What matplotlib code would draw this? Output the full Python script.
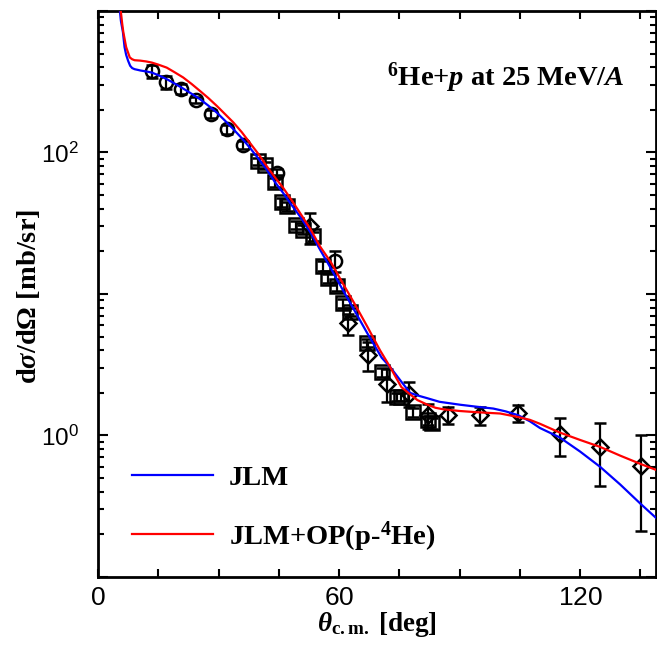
import numpy as np
import matplotlib
matplotlib.use("Agg")
import matplotlib.pyplot as plt
from matplotlib.ticker import FixedLocator, FuncFormatter, LogLocator, NullFormatter

# fonts: bold serif for labels, sans for the tick numbers
plt.rcParams['font.family'] = 'Liberation Serif'
plt.rcParams['mathtext.fontset'] = 'custom'
plt.rcParams['mathtext.rm'] = 'Liberation Serif:bold'
plt.rcParams['mathtext.it'] = 'Liberation Serif:italic:bold'
plt.rcParams['mathtext.bf'] = 'Liberation Serif:bold'
plt.rcParams['mathtext.sf'] = 'Liberation Sans'

# --- measured cross sections ---
# forward angles (circles)
circ_theta = [13.5, 17.0, 20.7, 24.5, 28.2, 32.1, 36.1, 44.6, 59.0]
circ_xs    = [377, 315, 283, 234, 188, 146, 113, 72, 17.2]
circ_err   = [40, 32, 23, 12, 12, 10, 8, 5, 3.0]

# middle angles (squares)
sq_theta = [39.9, 41.6, 44.1, 45.7, 47.1, 49.3, 51.1, 53.6, 55.9, 57.3,
            59.4, 61.1, 62.7, 66.9, 70.6, 74.4, 75.3, 78.5, 82.2, 83.1]
sq_xs    = [87, 81, 61.5, 44.5, 41.6, 30.9, 28.5, 25.5, 15.8, 12.9,
            11.3, 8.6, 7.5, 4.5, 2.8, 1.87, 1.87, 1.46, 1.28, 1.22]
sq_err   = [5, 5, 4, 3, 3, 2, 2, 2, 1.2, 1.0,
            0.8, 0.6, 0.5, 0.3, 0.2, 0.12, 0.12, 0.1, 0.1, 0.1]

# backward angles (diamonds)
dia_theta = [52.8, 62.3, 67.3, 71.9, 77.3, 82.2, 87.2, 95.1, 104.6, 114.9, 125.0, 135.1]
dia_xs    = [30.0, 6.2, 3.7, 2.33, 1.98, 1.39, 1.39, 1.39, 1.44, 1.02, 0.826, 0.613]
dia_err   = [7.5, 1.05, 0.85, 0.6, 0.4, 0.27, 0.19, 0.2, 0.2, 0.3, 0.39, 0.4]

# --- calculations ---
jlm_theta = [5.3, 5.7, 6.2, 6.6, 7.0, 7.5, 8.0, 8.5, 9.1, 10.0, 10.5, 12, 13.4, 15, 17.1, 19,
             21.2, 23.3, 25.4, 27.5, 29.6, 31.6, 33.7, 35.8, 37.8, 40, 42, 44,
             46.1, 48.2, 50.3, 52.8, 55.3, 58, 61, 64, 67, 70.6, 72.7, 75.5, 77.7,
             79.5, 81.8, 85, 90.1, 94, 98.4, 101.5, 104.6, 107.5, 110, 114.9,
             120, 125, 130, 135, 139]
jlm_xs    = [1100, 850, 708, 556, 490, 444, 410, 395, 388, 383, 380, 374, 367, 352, 330, 308,
             283, 260, 238, 214, 191, 168, 146, 126, 108, 90, 75.7, 62,
             51.7, 42.5, 35.3, 27.5, 20.5, 15.1, 10.6, 7.5, 5.3, 3.55, 3.05, 2.4, 2.0,
             1.92, 1.84, 1.73, 1.65, 1.60, 1.55, 1.48, 1.39, 1.26, 1.13, 0.97,
             0.77, 0.60, 0.45, 0.33, 0.26]

op_theta = [5.5, 6.0, 6.3, 7.0, 7.9, 8.5, 9.1, 10.5, 12, 13.4, 15, 17.1, 19, 21.2, 23.3,
            25.4, 27.5, 29.6, 31.6, 33.7, 35.8, 37.8, 40, 42, 44, 46.1, 48.2,
            50.3, 52.8, 55.3, 58, 61, 64, 67, 70.2, 72.7, 75.5, 77.7, 79.5, 81.8,
            84, 86, 90, 94.3, 100.1, 104.6, 107.5, 110, 114.9, 120, 125, 130,
            135, 139]
op_xs    = [1100, 820, 708, 556, 470, 456, 449, 446, 440, 432, 418, 398, 370, 339, 305,
            272, 242, 213, 187, 163, 139, 117, 97, 80, 67, 56.2, 46,
            37.3, 29, 21.6, 16.7, 11.8, 8.4, 5.9, 4.0, 3.05, 2.2, 1.95, 1.78, 1.66,
            1.57, 1.53, 1.49, 1.46, 1.43, 1.35, 1.29, 1.21, 1.05, 0.93, 0.83, 0.72,
            0.63, 0.57]

fig = plt.figure(figsize=(6.57, 6.51), dpi=100)
ax = fig.add_axes([0.1492, 0.1137, 0.8493, 0.8694])

ax.plot(jlm_theta, jlm_xs, color='#0000ff', lw=1.6, label='JLM', zorder=3)
ax.plot(op_theta, op_xs, color='#ff0000', lw=1.6, label=r'JLM+OP(p-$^{4}$He)', zorder=3)

bar_style = dict(mfc='none', mec='k', mew=1.8, ms=9.5, ecolor='k',
                 elinewidth=1.6, capsize=4, capthick=1.6, ls='none', zorder=2)
ax.errorbar(circ_theta, circ_xs, yerr=circ_err, fmt='o', **bar_style)
ax.errorbar(sq_theta, sq_xs, yerr=sq_err, fmt='s', **bar_style)
ax.errorbar(dia_theta, dia_xs, yerr=dia_err, fmt='D', **dict(bar_style, ms=8))

ax.set_yscale('log')
ax.set_xlim(0, 138.9)
ax.set_ylim(0.1, 1000)

# ticks
ax.xaxis.set_major_locator(FixedLocator([0, 60, 120]))
ax.xaxis.set_minor_locator(FixedLocator([15, 30, 45, 75, 90, 105, 135]))
ax.xaxis.set_major_formatter(FuncFormatter(lambda v, p: r'$\mathsf{%d}$' % v))
ax.yaxis.set_major_locator(LogLocator(base=10, numticks=10))
ax.yaxis.set_minor_locator(LogLocator(base=10, subs=np.arange(2, 10), numticks=20))
ax.yaxis.set_minor_formatter(NullFormatter())


def ylab(v, pos):
    e = int(round(np.log10(v)))
    if e in (0, 2):
        return r'$\mathsf{10^{%d}}$' % e
    return ''


ax.yaxis.set_major_formatter(FuncFormatter(ylab))
ax.tick_params(which='both', direction='in', top=True, right=True, width=1.5, colors='k')
ax.tick_params(axis='x', which='both', length=6, pad=8, labelsize=19)
ax.tick_params(axis='y', which='major', length=7, pad=14, labelsize=17.5)
ax.tick_params(axis='y', which='minor', length=4)
for s in ax.spines.values():
    s.set_linewidth(2)

ax.text(0.944, 0.869, r'$^{6}$He+$p$ at 25 MeV/$A$', transform=ax.transAxes,
        ha='right', va='baseline', fontsize=20.5, fontweight='bold')

fig.text(0.044, 0.545, r'd$\sigma$/d$\Omega$ [mb/sr]', rotation=90,
         ha='center', va='center', fontsize=20.5, fontweight='bold')
fig.text(0.573, 0.040, r'$\theta_{\rm c.m.}$ [deg]', ha='center', va='center',
         fontsize=19.5, fontweight='bold')

leg = ax.legend(loc='upper left', bbox_to_anchor=(0.061, 0.198), frameon=False,
                borderpad=0, borderaxespad=0, handlelength=2.85, handletextpad=0.56,
                labelspacing=1.0, prop={'family': 'Liberation Serif', 'weight': 'bold', 'size': 20.5})

fig.savefig('out.png', dpi=100)
